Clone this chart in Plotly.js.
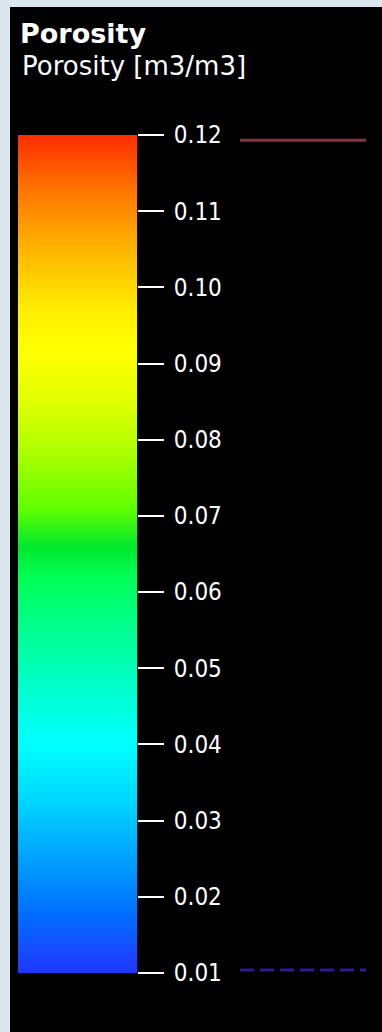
<!DOCTYPE html>
<html>
<head>
<meta charset="utf-8">
<script src="https://cdn.plot.ly/plotly-3.0.1.min.js"></script>
<style>html,body{margin:0;padding:0;background:#dce6f1;}#chart{width:382px;height:1032px;}</style>
</head>
<body>
<div id="chart"></div>
<script>
// Data
const title = 'Porosity';
const subtitle = 'Porosity [m3/m3]';
const levels = [0.01, 0.02, 0.03, 0.04, 0.05, 0.06, 0.07, 0.08, 0.09, 0.10, 0.11, 0.12];
const tickLabels = ['0.01', '0.02', '0.03', '0.04', '0.05', '0.06', '0.07', '0.08', '0.09', '0.10', '0.11', '0.12'];
const highMarker = [0.1193, 0.1193];
const lowMarker = [0.0104, 0.0104];

// Colour stops (style)
const colorStops = [
  [0.000, '#2036ff'],
  [0.018, '#1a44ff'],
  [0.073, '#0070ff'],
  [0.136, '#00a0ff'],
  [0.209, '#00d8ff'],
  [0.273, '#00ffff'],
  [0.336, '#00ffd0'],
  [0.409, '#00ff90'],
  [0.473, '#00ff55'],
  [0.509, '#00e82c'],
  [0.555, '#60ff00'],
  [0.618, '#a8ff00'],
  [0.682, '#e0ff00'],
  [0.745, '#ffff00'],
  [0.791, '#ffee00'],
  [0.864, '#ffb400'],
  [0.936, '#ff7400'],
  [1.000, '#ff2c00']
];

const W = 382, H = 1032;
const px = v => v / W;
const py = v => (H - v) / H;

const traces = [
  {
    type: 'heatmap',
    x: [0, 1],
    y: levels,
    z: levels.map(v => [v, v]),
    zmin: levels[0],
    zmax: levels[levels.length - 1],
    colorscale: colorStops,
    zsmooth: 'best',
    showscale: false,
    hoverinfo: 'skip',
    xaxis: 'x',
    yaxis: 'y'
  },
  {
    type: 'scatter', mode: 'lines',
    x: [0, 1], y: highMarker,
    line: {color: '#8c2f38', width: 3},
    xaxis: 'x2', yaxis: 'y', hoverinfo: 'skip', showlegend: false
  },
  {
    type: 'scatter', mode: 'lines',
    x: [0, 1], y: lowMarker,
    line: {color: '#2c1c94', width: 3, dash: '14px,6px'},
    xaxis: 'x2', yaxis: 'y', hoverinfo: 'skip', showlegend: false
  }
];

const layout = {
  width: W, height: H,
  margin: {l: 0, r: 0, t: 0, b: 0},
  paper_bgcolor: '#dce6f1',
  plot_bgcolor: 'rgba(0,0,0,0)',
  showlegend: false,
  shapes: [{
    type: 'rect', xref: 'paper', yref: 'paper', layer: 'below',
    x0: px(10), x1: 1, y0: 0, y1: py(7),
    fillcolor: '#000000', line: {width: 0}
  }],
  xaxis: {
    domain: [px(18), px(137)], range: [0, 1],
    visible: false, fixedrange: true
  },
  xaxis2: {
    domain: [px(240), px(366)], range: [0, 1],
    visible: false, anchor: 'y', fixedrange: true
  },
  yaxis: {
    domain: [py(973), py(135)],
    range: [levels[0], levels[levels.length - 1]],
    side: 'right', anchor: 'x',
    tickmode: 'array', tickvals: levels, ticktext: tickLabels,
    ticks: 'outside', ticklen: 26, tickwidth: 2, tickcolor: '#ffffff',
    ticklabelstandoff: 5,
    tickfont: {family: 'DejaVu Sans Condensed, DejaVu Sans, sans-serif', size: 24, color: '#ffffff'},
    showgrid: false, zeroline: false, showline: false, fixedrange: true
  },
  annotations: [
    {
      text: '<b>' + title + '</b>', xref: 'paper', yref: 'paper',
      x: px(18), y: py(33.5), xanchor: 'left', yanchor: 'middle', showarrow: false,
      font: {family: 'DejaVu Sans, sans-serif', size: 27, color: '#ffffff'}
    },
    {
      text: subtitle, xref: 'paper', yref: 'paper',
      x: px(20), y: py(66), xanchor: 'left', yanchor: 'middle', showarrow: false,
      font: {family: 'DejaVu Sans, sans-serif', size: 26, color: '#ffffff'}
    }
  ]
};

Plotly.newPlot('chart', traces, layout, {displayModeBar: false, staticPlot: true});
</script>
</body>
</html>
